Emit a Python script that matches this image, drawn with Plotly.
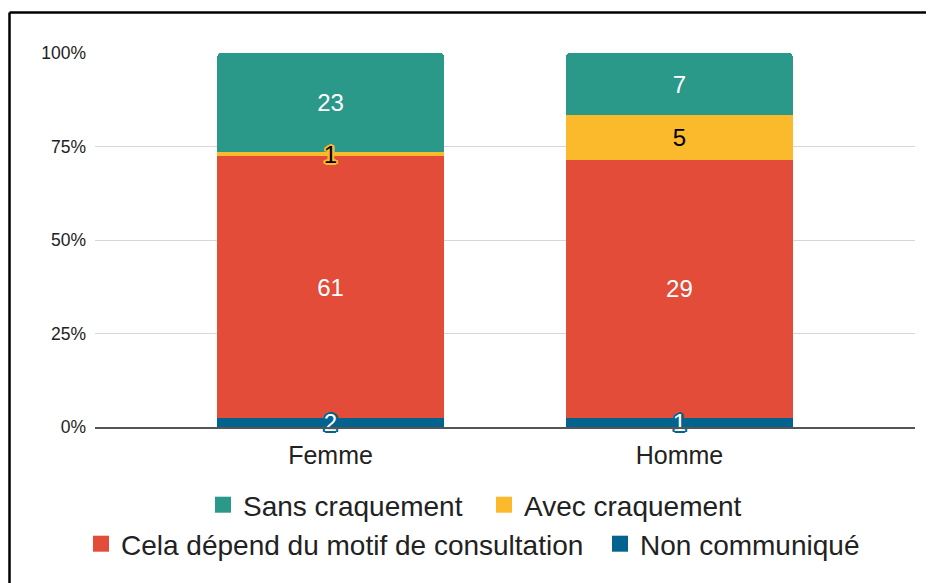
import plotly.graph_objects as go

categories = ["Femme", "Homme"]
non_communique = [2, 1]
cela_depend = [61, 29]
avec_craquement = [1, 5]
sans_craquement = [23, 7]
y_ticks = [0, 25, 50, 75, 100]
y_tick_labels = ["0%", "25%", "50%", "75%", "100%"]

# page body has an 8px margin; geometry below is in viewport pixels
OFF = 8
W, H = 934 - OFF, 583 - OFF
L, T = 95 - OFF, 53 - OFF
R = W - (915 - OFF)
B = H - (427 - OFF)
PW, PH = W - L - R, H - T - B
def px(x):
    return (x - OFF - L) / PW
def py(y):
    return (H - B - (y - OFF)) / PH

def halo(c):
    return ", ".join(f"{dx}px {dy}px 0 {c}" for dx, dy in
                     [(-1, -1), (1, -1), (-1, 1), (1, 1), (0, 2), (0, -2), (2, 0), (-2, 0),
                      (2, 1), (-2, 1), (2, -1), (-2, -1)])

series = [
    ("Non communiqué", non_communique, "#03638f", "white", "legend3", halo("#03638f")),
    ("Cela dépend du motif de consultation", cela_depend, "#e24c38", "white", "legend2", "none"),
    ("Avec craquement", avec_craquement, "#fbb92c", "black", "legend", halo("#fbb92c")),
    ("Sans craquement", sans_craquement, "#2a998a", "white", "legend", "none"),
]

fig = go.Figure()
# coloured stacked bars
for name, vals, color, tcolor, leg, shadow in series:
    fig.add_trace(go.Bar(
        x=categories, y=vals, name=name,
        marker=dict(color=color, line=dict(width=0)),
        width=0.648, showlegend=False, hoverinfo="skip",
    ))
# identical transparent stack on overlaid axes, carrying the value labels on top
for name, vals, color, tcolor, leg, shadow in series:
    fig.add_trace(go.Bar(
        x=categories, y=vals, name=name, xaxis="x2", yaxis="y2",
        marker=dict(color="rgba(0,0,0,0)", line=dict(width=0)),
        text=[str(v) for v in vals],
        textposition="inside", insidetextanchor="middle",
        constraintext="none", textangle=0,
        textfont=dict(color=tcolor, size=24, family="Arial, Liberation Sans", shadow=shadow),
        cliponaxis=False, width=0.648, showlegend=False, hoverinfo="skip",
    ))
# legend entries (square swatches)
for name, vals, color, tcolor, leg, shadow in series:
    fig.add_trace(go.Scatter(
        x=[None], y=[None], mode="markers", name=name,
        marker=dict(symbol="square", size=17, color=color),
        legend=leg, hoverinfo="skip",
    ))

leg_common = dict(orientation="h", xanchor="left", yanchor="middle",
                  traceorder="reversed", font=dict(size=28, color="#222222"),
                  itemclick=False, itemdoubleclick=False, bgcolor="rgba(0,0,0,0)")

fig.update_layout(
    width=W, height=H,
    margin=dict(l=L, r=R, t=T, b=B),
    barmode="stack", barnorm="percent",
    barcornerradius=3,
    paper_bgcolor="white", plot_bgcolor="white",
    font=dict(family="Arial, Liberation Sans", color="#222222"),
    legend=dict(x=px(203), y=py(505), entrywidth=236, **leg_common),
    legend2=dict(x=px(81), y=py(544), **leg_common),
    legend3=dict(x=px(600), y=py(544), **leg_common),
    xaxis=dict(range=[-0.675, 1.675], showgrid=False, showline=True, linecolor="#555555",
               linewidth=1.5, tickfont=dict(size=25, color="#222222"), ticks="",
               ticklabelstandoff=5),
    yaxis=dict(range=[0, 100], tickvals=y_ticks, ticktext=y_tick_labels,
               showgrid=True, gridcolor="#d6d6d6", gridwidth=1.2, zeroline=False,
               tickfont=dict(size=17.5, color="#222222"), ticks="", ticklabelstandoff=8),
    xaxis2=dict(overlaying="x", matches="x", visible=False),
    yaxis2=dict(overlaying="y", matches="y", visible=False),
    shapes=[
        dict(type="line", xref="paper", yref="paper", x0=px(9.5), x1=px(960), y0=py(12.5), y1=py(12.5),
             line=dict(color="black", width=2.5)),
        dict(type="line", xref="paper", yref="paper", x0=px(9.5), x1=px(9.5), y0=py(12.5), y1=py(620),
             line=dict(color="black", width=2.5)),
    ],
)

fig.write_html("out.html")
